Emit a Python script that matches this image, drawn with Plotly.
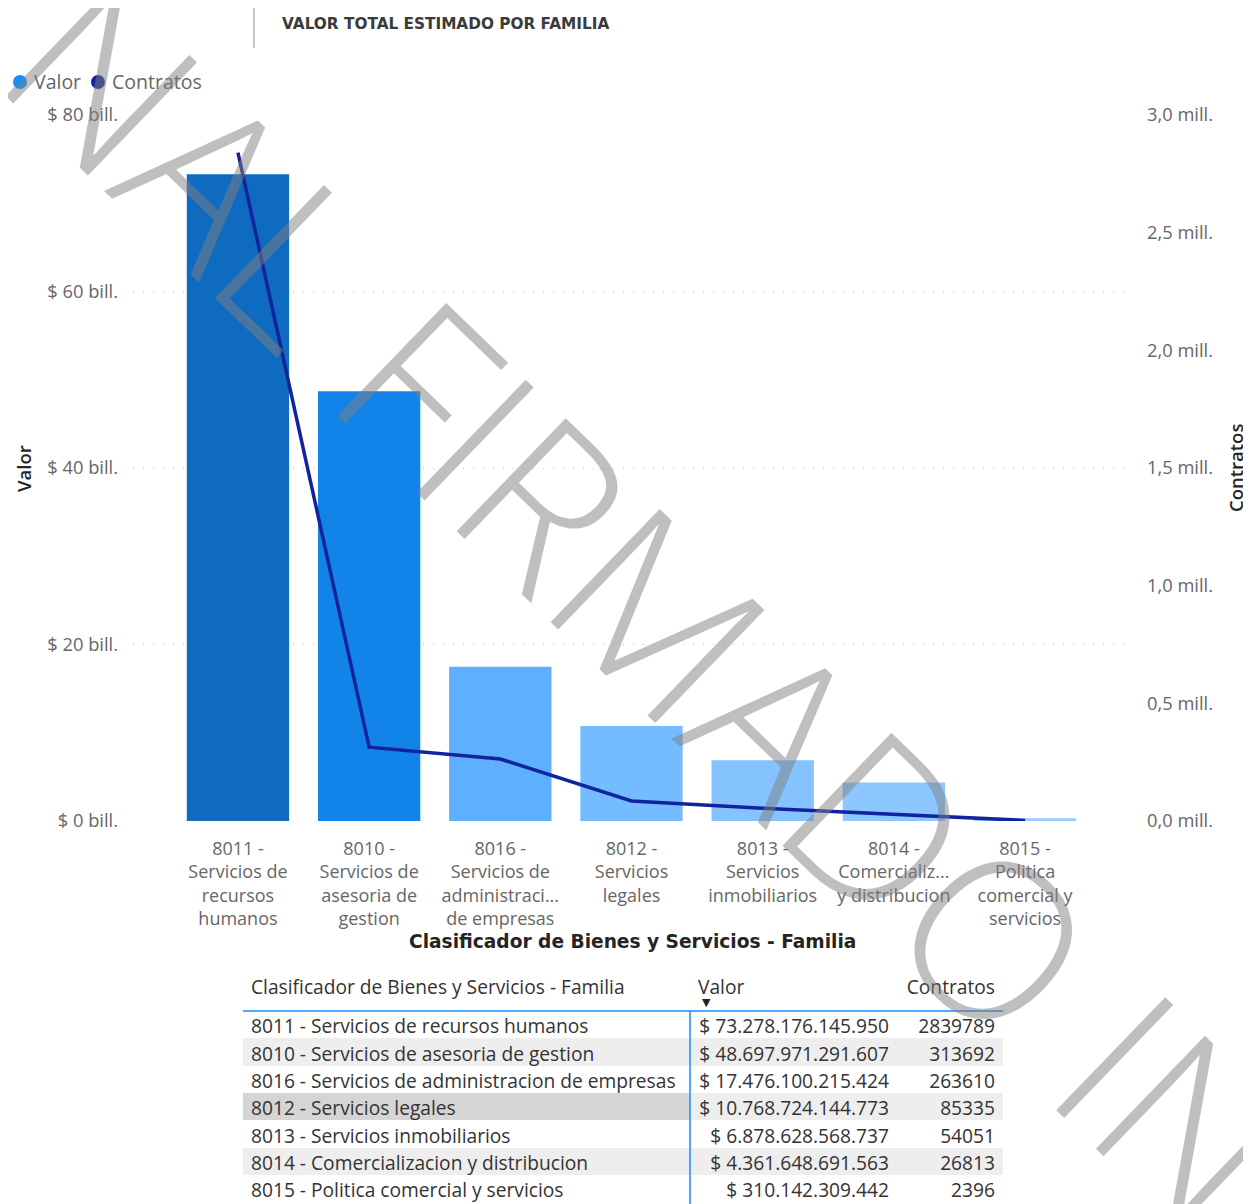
import plotly.graph_objects as go

W, H = 1251, 1204
OFF = 8  # browser body margin
FW, FH = W - OFF, H - OFF

# ---------------- data ----------------
categories = [
    "8011 - Servicios de recursos humanos",
    "8010 - Servicios de asesoria de gestion",
    "8016 - Servicios de administracion de empresas",
    "8012 - Servicios legales",
    "8013 - Servicios inmobiliarios",
    "8014 - Comercializacion y distribucion",
    "8015 - Politica comercial y servicios",
]
tick_labels = [
    "8011 -<br>Servicios de<br>recursos<br>humanos",
    "8010 -<br>Servicios de<br>asesoria de<br>gestion",
    "8016 -<br>Servicios de<br>administraci...<br>de empresas",
    "8012 -<br>Servicios<br>legales",
    "8013 -<br>Servicios<br>inmobiliarios",
    "8014 -<br>Comercializ...<br>y distribucion",
    "8015 -<br>Politica<br>comercial y<br>servicios",
]
valor = [73278176145950, 48697971291607, 17476100215424, 10768724144773,
         6878628568737, 4361648691563, 310142309442]
contratos = [2839789, 313692, 263610, 85335, 54051, 26813, 2396]

y_left_vals = [0, 20e12, 40e12, 60e12, 80e12]
y_left_text = ["$ 0 bill.", "$ 20 bill.", "$ 40 bill.", "$ 60 bill.", "$ 80 bill."]
y_right_vals = [0, 0.5e6, 1.0e6, 1.5e6, 2.0e6, 2.5e6, 3.0e6]
y_right_text = ["0,0 mill.", "0,5 mill.", "1,0 mill.", "1,5 mill.", "2,0 mill.", "2,5 mill.", "3,0 mill."]

table_header = ["Clasificador de Bienes y Servicios - Familia", "Valor", "Contratos"]
legend_names = ["Valor", "Contratos"]

# ---------------- styles ----------------
bar_colors = ["#0F6BBF", "#1283E8", "#5EAFFF", "#75BBFF", "#84C3FF", "#8DC7FF", "#98CDFF"]
legend_colors = ["#118DFF", "#12239E"]
line_color = "#12239E"
FONT = "Open Sans"
TXT_GRAY = "#666666"


def px_x(p):
    return (p - OFF) / FW


def px_y(p):
    return 1 - (p - OFF) / FH


valor_text = ["$\u00a0" + f"{v:,}".replace(",", ".") for v in valor]
contratos_text = [str(c) for c in contratos]

fig = go.Figure()

fig.add_trace(go.Bar(
    x=categories, y=valor, marker=dict(color=bar_colors, line=dict(width=0)),
    width=0.78, name=legend_names[0], showlegend=False, yaxis="y",
))
fig.add_trace(go.Scatter(
    x=categories, y=contratos, mode="lines", line=dict(color=line_color, width=3.5),
    name=legend_names[1], showlegend=False, yaxis="y2",
))

# table
n = len(categories)
col1_fill = ["#FFFFFF" if i % 2 == 0 else "#EEEEEE" for i in range(n)]
col2_fill = list(col1_fill)
col1_fill[3] = "#D5D5D5"
TFONT = dict(family=FONT, size=19.2, color="#333333")
fig.add_trace(go.Table(
    domain=dict(x=[px_x(243), px_x(1003)], y=[0, px_y(972)]),
    columnwidth=[447, 207, 106],
    header=dict(values=table_header, align=["left", "left", "right"],
                fill=dict(color="white"), line=dict(color="rgba(0,0,0,0)", width=0),
                font=TFONT, height=39),
    cells=dict(values=[categories, valor_text, contratos_text],
               align=["left", "right", "right"],
               fill=dict(color=[col1_fill, col2_fill, col2_fill]),
               line=dict(color="rgba(0,0,0,0)", width=0),
               font=TFONT, height=27.3),
))

xd = [px_x(133), px_x(1130)]
yd = [px_y(821), px_y(115)]

fig.update_layout(
    width=FW, height=FH,
    margin=dict(l=0, r=0, t=0, b=0, pad=0),
    paper_bgcolor="white", plot_bgcolor="white",
    xaxis=dict(domain=xd, type="category", range=[-0.8, 6.8], automargin=False,
               tickmode="array", tickvals=categories, ticktext=tick_labels,
               tickfont=dict(family=FONT, size=18, color=TXT_GRAY),
               showgrid=False, showline=False, zeroline=False, ticks="",
               ticklabelstandoff=15),
    yaxis=dict(domain=yd, range=[0, 80e12], tickmode="array", automargin=False,
               tickvals=y_left_vals, ticktext=y_left_text,
               tickfont=dict(family=FONT, size=18.3, color=TXT_GRAY),
               showgrid=True, gridcolor="#BDBDBD", gridwidth=1, griddash="1px,9px",
               zeroline=False, showline=False, ticks="", ticklabelstandoff=14),
    yaxis2=dict(domain=yd, range=[0, 3e6], overlaying="y", side="right", automargin=False,
                anchor="x", tickmode="array", tickvals=y_right_vals, ticktext=y_right_text,
                tickfont=dict(family=FONT, size=18.3, color=TXT_GRAY),
                showgrid=False, zeroline=False, showline=False, ticks="",
                ticklabelstandoff=16),
    showlegend=False,
)

TITLE_FONT = dict(family="Open Sans", size=18.5, color="#252423", weight=600)
annotations = [
    dict(text="VALOR TOTAL ESTIMADO POR FAMILIA", x=px_x(280), y=px_y(24),
         xanchor="left", yanchor="middle",
         font=dict(family="DejaVu Sans", size=15.3, color="#3A3A3A", weight="bold")),
    dict(text=legend_names[0], x=px_x(32), y=px_y(82), xanchor="left", yanchor="middle",
         font=dict(family=FONT, size=19.5, color=TXT_GRAY)),
    dict(text=legend_names[1], x=px_x(110), y=px_y(82), xanchor="left", yanchor="middle",
         font=dict(family=FONT, size=19.5, color=TXT_GRAY)),
    dict(text="Valor", x=px_x(24), y=px_y(468), textangle=-90,
         xanchor="center", yanchor="middle", font=TITLE_FONT),
    dict(text="Contratos", x=px_x(1236), y=px_y(468), textangle=-90,
         xanchor="center", yanchor="middle", font=TITLE_FONT),
    dict(text="Clasificador de Bienes y Servicios - Familia", x=px_x(632), y=px_y(941),
         xanchor="center", yanchor="middle",
         font=dict(family="DejaVu Sans", size=18.6, color="#252423", weight="bold")),
    dict(text="▼", x=px_x(706), y=px_y(1003), xanchor="center", yanchor="middle",
         font=dict(family="DejaVu Sans", size=11, color="#222222")),
    dict(text="NAL FIRMADO IN", x=px_x(651), y=px_y(601), textangle=44,
         xanchor="center", yanchor="middle",
         font=dict(family="Open Sans", size=220, color="rgba(128,128,128,0.5)", weight=300)),
]
for a in annotations:
    a.update(xref="paper", yref="paper", showarrow=False)
fig.update_layout(annotations=annotations)

r = 7
shapes = [
    dict(type="line", x0=px_x(254), x1=px_x(254), y0=px_y(8), y1=px_y(48),
         line=dict(color="#A0A0A0", width=1.2)),
    dict(type="circle", x0=px_x(20 - r), x1=px_x(20 + r), y0=px_y(82 - r), y1=px_y(82 + r),
         fillcolor=legend_colors[0], line=dict(width=0)),
    dict(type="circle", x0=px_x(98 - r), x1=px_x(98 + r), y0=px_y(82 - r), y1=px_y(82 + r),
         fillcolor=legend_colors[1], line=dict(width=0)),
    dict(type="line", x0=px_x(243), x1=px_x(1003), y0=px_y(1011), y1=px_y(1011),
         line=dict(color="#118DFF", width=1.5)),
    dict(type="line", x0=px_x(690), x1=px_x(690), y0=px_y(1011), y1=0,
         line=dict(color="#118DFF", width=1.5)),
]
for s in shapes:
    s.update(xref="paper", yref="paper", layer="above")
fig.update_layout(shapes=shapes)

fig.write_html("out.html")
